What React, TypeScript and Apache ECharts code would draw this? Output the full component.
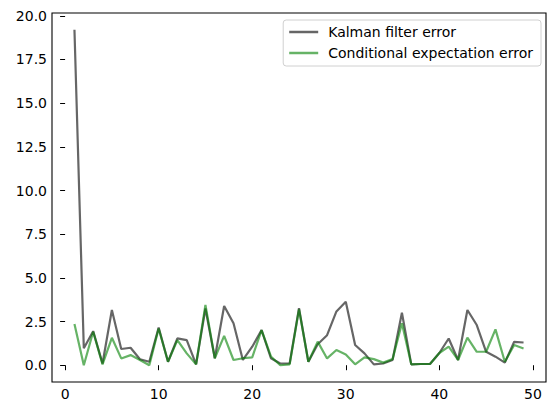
import React, { useEffect, useRef } from "react";
import * as echarts from "echarts";

const steps = [1, 2, 3, 4, 5, 6, 7, 8, 9, 10, 11, 12, 13, 14, 15, 16, 17, 18, 19, 20, 21, 22, 23, 24, 25, 26, 27, 28, 29, 30, 31, 32, 33, 34, 35, 36, 37, 38, 39, 40, 41, 42, 43, 44, 45, 46, 47, 48, 49];
const kalmanError = [19.2, 0.97, 1.95, 0.1, 3.16, 0.93, 1.0, 0.34, 0.2, 2.15, 0.2, 1.54, 1.44, 0.05, 3.25, 0.4, 3.39, 2.4, 0.3, 1.06, 2.01, 0.4, 0.1, 0.1, 3.26, 0.2, 1.2, 1.72, 3.08, 3.63, 1.16, 0.68, 0.05, 0.1, 0.3, 3.0, 0.05, 0.07, 0.07, 0.7, 1.53, 0.3, 3.16, 2.3, 0.77, 0.49, 0.15, 1.34, 1.3];
const condError = [2.36, 0.0, 1.92, 0.05, 1.57, 0.39, 0.58, 0.3, 0.0, 2.1, 0.2, 1.44, 0.68, 0.05, 3.45, 0.4, 1.68, 0.3, 0.4, 0.45, 2.01, 0.5, 0.0, 0.05, 3.2, 0.2, 1.35, 0.39, 0.87, 0.62, 0.05, 0.45, 0.35, 0.15, 0.35, 2.4, 0.05, 0.07, 0.07, 0.7, 1.06, 0.3, 1.58, 0.77, 0.77, 2.05, 0.2, 1.16, 0.96];
const xTicks = [0, 10, 20, 30, 40, 50];
const yTicks = [0, 2.5, 5, 7.5, 10, 12.5, 15, 17.5, 20];
const seriesNames = ["Kalman filter error", "Conditional expectation error"];

const FONT = "DejaVu Sans";

export default function App() {
  const ref = useRef<HTMLDivElement>(null);
  useEffect(() => {
    if (!ref.current) return;
    const chart = echarts.init(ref.current, null, { renderer: "svg" });
    const axisCommon = {
      axisLine: { show: false },
      splitLine: { show: false },
      axisTick: { show: true, inside: false, length: 5, lineStyle: { color: "#000", width: 1 } },
      axisLabel: { color: "#000", fontSize: 14, fontFamily: FONT, margin: 5 },
    };
    chart.setOption({
      animation: false,
      backgroundColor: "#fff",
      grid: { left: 52, right: 10, top: 13, bottom: 34, show: true, borderColor: "#000", borderWidth: 1.1, backgroundColor: "transparent" },
      xAxis: {
        type: "value",
        min: -1.4,
        max: 51.4,
        ...axisCommon,
        axisTick: { ...axisCommon.axisTick, customValues: xTicks },
        axisLabel: { ...axisCommon.axisLabel, customValues: xTicks, formatter: (v: number) => String(v) },
      },
      yAxis: {
        type: "value",
        min: -0.96,
        max: 20.16,
        ...axisCommon,
        axisTick: { ...axisCommon.axisTick, customValues: yTicks },
        axisLabel: { ...axisCommon.axisLabel, customValues: yTicks, formatter: (v: number) => v.toFixed(1) },
      },
      legend: {
        show: true,
        orient: "vertical",
        right: 15,
        top: 20,
        padding: [4, 8, 5, 6],
        itemGap: 5,
        itemWidth: 29,
        itemHeight: 2.5,
        icon: "rect",
        borderColor: "#d0d0d0",
        borderWidth: 1,
        borderRadius: 3,
        backgroundColor: "rgba(255,255,255,0.8)",
        textStyle: { color: "#000", fontSize: 14, fontFamily: FONT, padding: [0, 0, 0, 5], lineHeight: 16 },
        data: seriesNames,
      },
      series: [
        {
          name: seriesNames[0],
          type: "line",
          symbol: "none",
          data: steps.map((s, i) => [s, kalmanError[i]]),
          lineStyle: { color: "#000", width: 2.2, opacity: 0.6 },
          itemStyle: { color: "#666666" },
          z: 2,
        },
        {
          name: seriesNames[1],
          type: "line",
          symbol: "none",
          data: steps.map((s, i) => [s, condError[i]]),
          lineStyle: { color: "#008000", width: 2.2, opacity: 0.6 },
          itemStyle: { color: "#66b366" },
          z: 3,
        },
      ],
    });
    return () => chart.dispose();
  }, []);
  return <div ref={ref} style={{ position: "fixed", left: 0, top: 0, width: 556, height: 416 }} />;
}
